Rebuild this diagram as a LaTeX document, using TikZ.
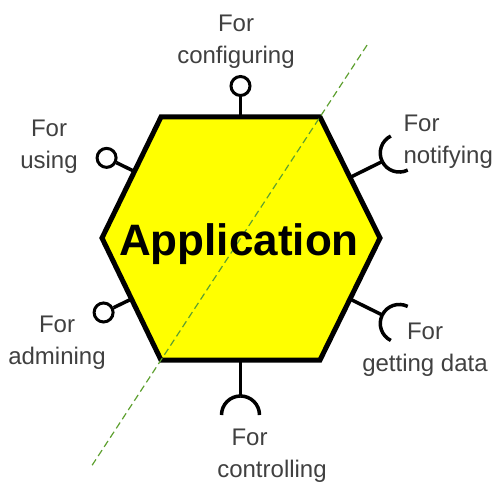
\documentclass[tikz,border=0pt]{standalone}
\usepackage{fontspec}
\setmainfont{Liberation Sans}
\usetikzlibrary{calc}
\definecolor{hexyellow}{RGB}{255, 255, 0}
\definecolor{boundary}{RGB}{94, 160, 48}
\definecolor{labelgray}{RGB}{64, 64, 64}
\tikzset{
  hexa/.style={draw=black, fill=hexyellow, line width=5pt},
  port/.style={draw=black, line width=3.5pt},
  ball/.style={circle, draw=black, fill=white, line width=3pt, minimum size=19pt, inner sep=0pt},
  portlabel/.style={text=labelgray, align=center, font=\fontsize{24}{32}\selectfont},
  boundaryline/.style={draw=boundary, line width=1.2pt, dash pattern=on 7pt off 4pt},
}
\newcommand{\ballport}[3]{
  \node[ball] (#1) at ($(#2)+(#3:31)$) {};
  \draw[port] (#2) -- (#1);
}
\newcommand{\socketport}[3]{
  \coordinate (#1) at ($(#2)+(#3:36)$);
  \draw[port] (#2) -- (#1);
  \draw[port] (#1) arc[start angle=#3+180, end angle=#3+90, radius=19];
  \draw[port] (#1) arc[start angle=#3+180, end angle=#3+270, radius=19];
}

\begin{document}
\begin{tikzpicture}[x=1pt, y=1pt]
  \useasboundingbox (0,0) rectangle (494,482);

  \coordinate (R) at (380,244);  \coordinate (TR) at (320,365);
  \coordinate (TL) at (161,365); \coordinate (L) at (102,244);
  \coordinate (BL) at (161,122); \coordinate (BR) at (320,122);
  \draw[hexa] (R) -- (TR) -- (TL) -- (L) -- (BL) -- (BR) -- cycle;

  \coordinate (cfg) at ($(TL)!0.5!(TR)$);
  \coordinate (use) at ($(L)!0.55!(TL)$);
  \coordinate (adm) at ($(L)!0.5!(BL)$);
  \coordinate (ntf) at ($(R)!0.5!(TR)$);
  \coordinate (get) at ($(R)!0.5!(BR)$);
  \coordinate (ctl) at ($(BL)!0.5!(BR)$);

  \ballport{cfg-ball}{cfg}{90}
  \ballport{use-ball}{use}{154}
  \ballport{adm-ball}{adm}{205.8}
  \socketport{ntf-sock}{ntf}{26.4}
  \socketport{get-sock}{get}{-26.4}
  \socketport{ctl-sock}{ctl}{-90}

  \coordinate (bd-s) at ($(BL)!-0.433!(TR)$);
  \coordinate (bd-e) at ($(TR)!-0.309!(BL)$);
  \draw[boundaryline] (bd-s) -- (bd-e);

  \node[font=\fontsize{44}{50}\selectfont\bfseries] (app) at (239,238) {Application};

  \node[portlabel] (cfg-lbl) at (236,440) {For\\configuring};
  \node[portlabel] (use-lbl) at (49,335) {For\\using};
  \node[portlabel] (adm-lbl) at (57,139) {For\\admining};
  \node[portlabel, align=left, anchor=west] (ntf-lbl) at (400,340) {For\\notifying};
  \node[portlabel] (get-lbl) at (425,132) {For\\getting data};
  \node[portlabel] (ctl-lbl) at (272,26) {For\hspace*{45pt}\\controlling};
\end{tikzpicture}
\end{document}
